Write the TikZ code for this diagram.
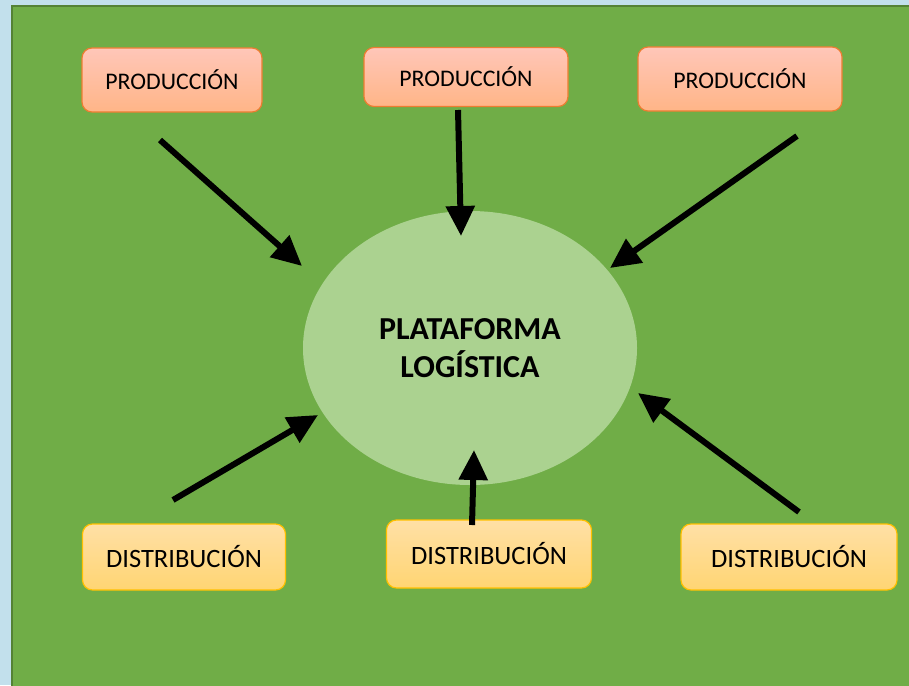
\documentclass[tikz,border=0pt]{standalone}
\usepackage{fontspec}
\setmainfont{Carlito}
\usetikzlibrary{arrows.meta,shapes.geometric}
\definecolor{fondo}{HTML}{C2E0EC}
\definecolor{verde}{HTML}{70AD47}
\definecolor{verdeosc}{HTML}{548235}
\definecolor{verdecl}{HTML}{ABD290}
\definecolor{naranja}{HTML}{ED7D31}
\definecolor{amarillo}{HTML}{FFC000}
\begin{document}
\begin{tikzpicture}[x=1pt,y=-1pt]
\tikzstyle{prod}=[rectangle,rounded corners=10pt,draw=naranja,line width=1.2pt,top color=orange!20!pink!90!red!60!white,bottom color=orange!45!pink!80!white,minimum height=64pt,font=\fontsize{23.8}{28}\selectfont]
\tikzstyle{dist}=[rectangle,rounded corners=10pt,draw=amarillo,line width=1.2pt,top color=yellow!30!orange!35!white,bottom color=yellow!40!orange!55!white,minimum height=66pt,font=\fontsize{26.5}{30}\selectfont]
\tikzstyle{flecha}=[line width=6pt,-{Triangle[length=30pt,width=28pt]}]
\useasboundingbox (0,0) rectangle (909,685);
\fill[fondo] (0,0) rectangle (909,685);
\begin{scope}
\clip (0,0) rectangle (909,685);
\draw[verdeosc,line width=2pt,fill=verde] (12,6) rectangle (915,692);
\end{scope}
\node[ellipse,fill=verdecl,minimum width=334pt,minimum height=274pt,align=center,font=\fontsize{32}{38}\selectfont\bfseries](plat) at (470,348) {PLATAFORMA\\LOG\'ISTICA};
\node[prod,minimum width=180pt](p1) at (172,80) {PRODUCCI\'ON};
\node[prod,minimum width=204pt,minimum height=59pt](p2) at (466,77) {PRODUCCI\'ON};
\node[prod,minimum width=204pt](p3) at (740,79) {PRODUCCI\'ON};
\node[dist,minimum width=203pt](d1) at (184,557) {DISTRIBUCI\'ON};
\node[dist,minimum width=205pt,minimum height=68pt](d2) at (489,554) {DISTRIBUCI\'ON};
\node[dist,minimum width=216pt](d3) at (789,557) {DISTRIBUCI\'ON};
% extremos de las flechas
\coordinate (a1) at (160,140); \coordinate (b1) at (302,266);
\coordinate (a2) at (458,110); \coordinate (b2) at (461,236);
\coordinate (a3) at (797,136); \coordinate (b3) at (610,268);
\coordinate (a4) at (173,500); \coordinate (b4) at (318,415);
\coordinate (a5) at (472,525); \coordinate (b5) at (474,450);
\coordinate (a6) at (799,512); \coordinate (b6) at (638,393);
\foreach \i in {1,...,6}
  \draw[flecha] (a\i) -- (b\i);
\end{tikzpicture}
\end{document}
